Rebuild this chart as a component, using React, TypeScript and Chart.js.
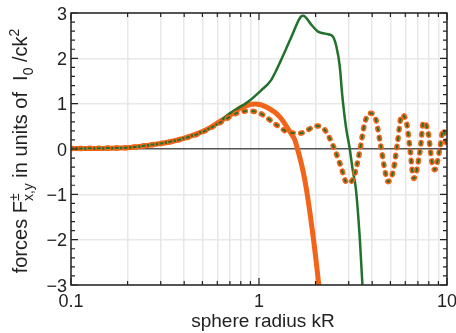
import React, { useEffect, useRef } from "react";
import { Chart, registerables } from "chart.js";

Chart.register(...registerables);

// ---- data ----
const dottedX = [0.1, 0.15, 0.2, 0.263, 0.3, 0.38, 0.485, 0.62, 0.76, 0.876, 1.01, 1.24, 1.46, 1.66, 2.03, 2.24, 2.49, 2.71, 2.94, 3.17, 3.43, 3.65, 3.89, 4.14, 4.42, 4.69, 4.85, 5.19, 5.45, 5.75, 6.1, 6.35, 6.65, 7.2, 7.5, 7.95, 8.28, 8.6, 9.2, 9.55, 10];
const dottedY = [0.01, 0.02, 0.03, 0.09, 0.12, 0.21, 0.35, 0.58, 0.79, 0.84, 0.79, 0.53, 0.36, 0.35, 0.51, 0.42, 0.05, -0.35, -0.75, -0.65, -0.06, 0.57, 0.79, 0.71, 0.12, -0.5, -0.72, -0.46, 0.13, 0.75, 0.57, 0.02, -0.65, -0.02, 0.6, 0.35, -0.24, -0.46, 0.05, 0.43, 0.0];

const orangeX = [0.1, 0.2, 0.3, 0.38, 0.485, 0.55, 0.62, 0.7, 0.79, 0.86, 0.96, 1.1, 1.29, 1.46, 1.55, 1.59, 1.71, 1.79, 1.95, 2.08, 2.2];
const orangeY = [0.01, 0.03, 0.12, 0.21, 0.36, 0.47, 0.61, 0.74, 0.9, 0.96, 0.99, 0.92, 0.71, 0.38, 0.2, 0.05, -0.46, -0.9, -2.0, -3.0, -4.0];

const greenX = [0.1, 0.2, 0.3, 0.38, 0.485, 0.6, 0.68, 0.874, 1.03, 1.16, 1.31, 1.49, 1.67, 1.72, 1.9, 2.06, 2.33, 2.47, 2.58, 2.69, 2.77, 2.9, 3.04, 3.15, 3.28, 3.44, 3.55, 3.68];
const greenY = [0.01, 0.03, 0.12, 0.21, 0.36, 0.55, 0.75, 1.04, 1.3, 1.52, 1.96, 2.48, 2.92, 2.94, 2.74, 2.59, 2.53, 2.48, 2.26, 1.82, 1.2, 0.49, 0.0, -0.46, -0.9, -2.0, -3.0, -4.5];

const xTickValues = [0.1, 0.2, 0.3, 0.4, 0.5, 0.6, 0.7, 0.8, 0.9, 1, 2, 3, 4, 5, 6, 7, 8, 9, 10];
const xTickLabels = ["0.1", "1", "10"];
const xMajorValues = [0.1, 1, 10];
const yTickValues = [-3, -2, -1, 0, 1, 2, 3];
const yTickLabels = ["\u22123", "\u22122", "\u22121", "0", "1", "2", "3"];

const xTitle = "sphere radius kR";

const ORANGE = "#f26419";
const GREEN = "#22712c";
const FONT = "'Liberation Sans', Arial, sans-serif";

const pts = (xs: number[], ys: number[]) => xs.map((x, i) => ({ x, y: ys[i] }));

const decorPlugin = {
  id: "decor",
  afterDraw(chart: any) {
    const { ctx, chartArea } = chart;
    const { left, right, top, bottom } = chartArea;
    const xs = chart.scales.x;
    const ys = chart.scales.y;
    ctx.save();
    // frame
    ctx.strokeStyle = "#222";
    ctx.lineWidth = 1.5;
    ctx.strokeRect(left, top, right - left, bottom - top);
    // y ticks every 0.2
    ctx.lineWidth = 1.2;
    for (let k = -15; k <= 15; k++) {
      const v = k / 5;
      const py = ys.getPixelForValue(v);
      const len = k % 5 === 0 ? 7 : 4;
      ctx.beginPath();
      ctx.moveTo(left, py);
      ctx.lineTo(left + len, py);
      ctx.moveTo(right, py);
      ctx.lineTo(right - len, py);
      ctx.stroke();
    }
    // x ticks
    xTickValues.forEach((v) => {
      const px = xs.getPixelForValue(v);
      const len = xMajorValues.includes(v) ? 7 : 4;
      ctx.beginPath();
      ctx.moveTo(px, bottom);
      ctx.lineTo(px, bottom - len);
      ctx.moveTo(px, top);
      ctx.lineTo(px, top + len);
      ctx.stroke();
    });
    // tick labels
    ctx.fillStyle = "#222";
    ctx.font = `18px ${FONT}`;
    ctx.textAlign = "right";
    ctx.textBaseline = "alphabetic";
    yTickValues.forEach((v, i) => {
      const py = ys.getPixelForValue(v);
      ctx.fillText(yTickLabels[i], left - 4, py + 6.5);
    });
    ctx.textAlign = "center";
    xMajorValues.forEach((v, i) => {
      const px = xs.getPixelForValue(v);
      ctx.fillText(xTickLabels[i], px, bottom + 21.5);
    });
    // x title
    ctx.font = `19px ${FONT}`;
    ctx.fillText(xTitle, (left + right) / 2 + 4, 327);
    // y title (rotated, with sub/superscripts)
    const big = `20px ${FONT}`;
    const small = `14px ${FONT}`;
    type Seg = { t: string; f: string; dy: number; stackSub?: string };
    const segs: Seg[] = [
      { t: "forces F", f: big, dy: 0 },
      { t: "\u00b1", f: small, dy: -8, stackSub: "x,y" },
      { t: " in units of  I", f: big, dy: 0 },
      { t: "0", f: small, dy: 5.5 },
      { t: " /ck", f: big, dy: 0 },
      { t: "2", f: small, dy: -8 },
    ];
    const widths = segs.map((s) => {
      ctx.font = s.f;
      let w = ctx.measureText(s.t).width;
      if (s.stackSub) w = Math.max(w, ctx.measureText(s.stackSub).width);
      return w;
    });
    const total = widths.reduce((a, b) => a + b, 0);
    ctx.translate(27, (top + bottom) / 2 + 2);
    ctx.rotate(-Math.PI / 2);
    ctx.textAlign = "left";
    let cx = -total / 2;
    segs.forEach((s, i) => {
      ctx.font = s.f;
      ctx.fillText(s.t, cx, s.dy);
      if (s.stackSub) ctx.fillText(s.stackSub, cx, 5.5);
      cx += widths[i];
    });
    ctx.restore();
  },
};

export default function App() {
  const ref = useRef<HTMLCanvasElement | null>(null);
  useEffect(() => {
    document.body.style.margin = "0";
    const canvas = ref.current!;
    const chart = new Chart(canvas, {
      type: "line",
      data: {
        datasets: [
          {
            label: "orange",
            data: pts(orangeX, orangeY),
            borderColor: ORANGE,
            borderWidth: 5,
            cubicInterpolationMode: "monotone",
            pointRadius: 0,
            fill: false,
            order: 4,
          },
          {
            label: "green",
            data: pts(greenX, greenY),
            borderColor: GREEN,
            borderWidth: 2.5,
            cubicInterpolationMode: "monotone",
            pointRadius: 0,
            fill: false,
            order: 3,
          },
          {
            label: "dots",
            data: pts(dottedX, dottedY),
            borderColor: ORANGE,
            borderWidth: 5.5,
            borderDash: [1.5, 7.5],
            borderCapStyle: "round",
            cubicInterpolationMode: "monotone",
            pointRadius: 0,
            fill: false,
            order: 2,
          },
          {
            label: "dashes",
            data: pts(dottedX, dottedY),
            borderColor: GREEN,
            borderWidth: 2,
            borderDash: [4, 5],
            borderDashOffset: 1.25,
            cubicInterpolationMode: "monotone",
            pointRadius: 0,
            fill: false,
            order: 1,
          },
        ] as any,
      },
      options: {
        responsive: false,
        animation: false,
        events: [],
        layout: { padding: { left: 0, right: 9, top: 13, bottom: 0 } },
        plugins: { legend: { display: false }, tooltip: { enabled: false } },
        scales: {
          x: {
            type: "logarithmic",
            min: 0.1,
            max: 10,
            afterBuildTicks: (s: any) => {
              s.ticks = xTickValues.map((v) => ({ value: v }));
            },
            afterFit: (s: any) => {
              s.height = 48;
            },
            ticks: { display: false },
            border: { display: false },
            grid: { color: "#e8e8e8", lineWidth: 1.5, drawTicks: false },
          },
          y: {
            type: "linear",
            min: -3,
            max: 3,
            afterBuildTicks: (s: any) => {
              s.ticks = yTickValues.map((v) => ({ value: v }));
            },
            afterFit: (s: any) => {
              s.width = 71;
            },
            ticks: { display: false },
            border: { display: false },
            grid: {
              color: (c: any) => (c.tick && c.tick.value === 0 ? "#555" : "#e8e8e8"),
              lineWidth: 1.5,
              drawTicks: false,
            },
          },
        },
      } as any,
      plugins: [decorPlugin],
    });
    return () => chart.destroy();
  }, []);
  return <canvas ref={ref} width={456} height={333} style={{ display: "block" }} />;
}
